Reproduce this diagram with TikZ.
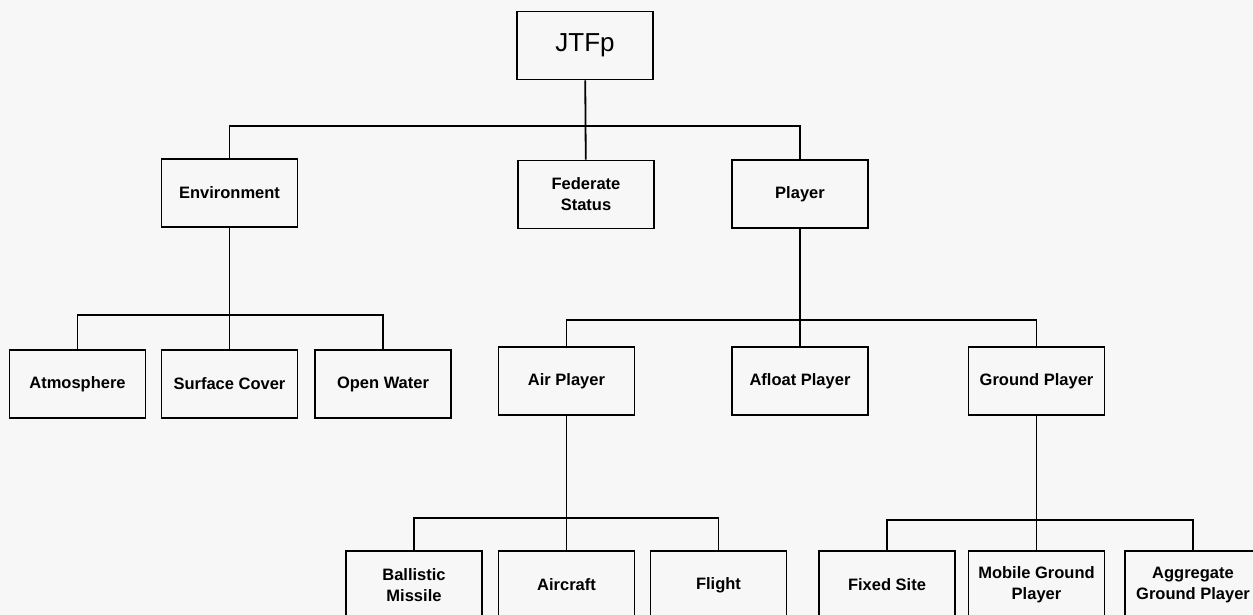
\documentclass[tikz,border=0pt]{standalone}
\usepackage{fontspec}
\setmainfont{Liberation Sans}
\begin{document}
\begin{tikzpicture}[x=1pt,y=-1pt,line width=1.8pt,
    box/.style={draw,rectangle,minimum width=136pt,minimum height=68pt,inner sep=0pt,align=center,font=\bfseries\fontsize{16.5}{21}\selectfont}]
		    \fill[black!3] (0,0) rectangle (1253,615);
		    \clip (0,0) rectangle (1253,615);
			    \node[box,font=\fontsize{26}{30}\selectfont] (AA) at (585,45.5) {JTFp};
		    	\node[box] (BA) at (229.5,193) {Environment};
		    	\node[box] (BB) at (586,194.5) {Federate\\Status};
		    	\node[box] (BC) at (800,194) {Player};
		    	\node[box] (CA) at (77.5,384) {Atmosphere};
		    	\node[box] (CB) at (229.5,384) {Surface Cover};
		    	\node[box] (CC) at (383,384) {Open Water};
		    	\node[box] (CD) at (566.5,381) {Air Player};
		    	\node[box] (CE) at (800,381) {Afloat Player};
		    	\node[box] (CF) at (1036.5,381) {Ground Player};
		    	\node[box] (DA) at (414,585) {Ballistic\\Missile};
		    	\node[box] (DB) at (566.5,585) {Aircraft};
		    	\node[box] (DC) at (718.5,585) {Flight};
		    	\node[box] (DD) at (887,585) {Fixed Site};
		    	\node[box] (DE) at (1036.5,585) {Mobile Ground\\Player};
		    	\node[box] (DF) at (1193,585) {Aggregate\\Ground Player};
		    	
		    	\coordinate (XA) at (586,126);
		    	\coordinate (XB) at (229.5,315);
		    	\coordinate (XC) at (800,320);
		    	\coordinate (XD) at (566.5,518);
		    	\coordinate (XE) at (1036.5,520);
		    	
		    	\draw (AA)--(BB);
		    	\draw (BA.north) |- (XA) -| (BC.north);
		    	\draw (BA)--(CB);
		    	\draw (CA.north) |- (XB) -| (CC.north);
		    	\draw (BC)--(CE);
		    	\draw (CD.north) |- (XC) -| (CF.north);
		    	\draw (CD)--(DB);
		    	\draw (DA.north) |- (XD) -| (DC.north);
		    	\draw (CF)--(DE);
	    	    \draw (DD.north) |- (XE) -| (DF.north);
		    \end{tikzpicture}
\end{document}
